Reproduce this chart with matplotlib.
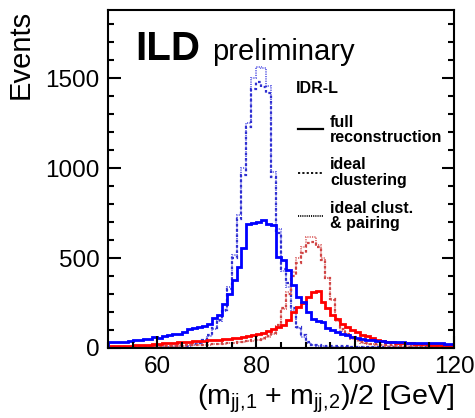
import numpy as np
import matplotlib
matplotlib.use("Agg")
import matplotlib.pyplot as plt
from matplotlib.ticker import MultipleLocator

plt.rcParams['font.family'] = ['Liberation Sans', 'DejaVu Sans']
plt.rcParams['mathtext.fontset'] = 'custom'
plt.rcParams['mathtext.rm'] = 'Liberation Sans'
plt.rcParams['mathtext.it'] = 'Liberation Sans'

# 1 GeV bins from 50 to 120
edges = np.arange(50, 121, 1)

# W pairs (blue)
w_full = [33, 33, 35, 35, 38, 43, 45, 48, 52, 61,
          58, 65, 70, 78, 80, 90, 108, 112, 117, 122,
          135, 165, 182, 247, 303, 377, 452, 554, 690, 695,
          700, 712, 690, 684, 508, 489, 433, 350, 284, 257,
          200, 164, 150, 145, 110, 98, 90, 80, 70, 61,
          58, 52, 43, 42, 40, 38, 35, 33, 33, 32,
          30, 30, 28, 28, 27, 26, 25, 25, 24, 23]
w_clust = [6, 6, 6, 6, 6, 6, 6, 6, 6, 6,
           6, 7, 8, 9, 10, 12, 15, 20, 30, 45,
           70, 110, 155, 210, 330, 500, 720, 960, 1230, 1440,
           1480, 1450, 1420, 950, 640, 440, 360, 225, 115, 70,
           33, 18, 14, 12, 11, 10, 10, 9, 9, 8,
           8, 8, 8, 7, 7, 7, 7, 7, 6, 6,
           6, 6, 6, 6, 5, 5, 5, 5, 5, 5]
w_pair = [4, 4, 4, 4, 4, 4, 4, 4, 4, 5,
          5, 5, 6, 7, 8, 10, 13, 18, 28, 42,
          68, 105, 150, 205, 340, 520, 740, 1000, 1250, 1500,
          1565, 1560, 1460, 980, 660, 430, 340, 210, 110, 60,
          28, 15, 11, 9, 8, 8, 7, 7, 7, 6,
          6, 6, 6, 6, 5, 5, 5, 5, 5, 5,
          5, 5, 5, 4, 4, 4, 4, 4, 4, 4]

# Z pairs (red)
z_full = [10, 11, 12, 12, 13, 14, 15, 17, 19, 21,
          24, 25, 27, 29, 31, 33, 35, 37, 39, 41,
          43, 45, 47, 49, 51, 54, 58, 62, 66, 72,
          80, 85, 92, 108, 115, 126, 154, 200, 230, 250,
          284, 312, 315, 257, 220, 182, 160, 135, 115, 100,
          89, 75, 65, 55, 45, 40, 35, 33, 30, 28,
          26, 25, 24, 22, 20, 18, 16, 15, 14, 13]
z_clust = [6, 6, 7, 7, 8, 8, 9, 9, 10, 10,
           11, 12, 12, 13, 14, 15, 16, 17, 18, 19,
           20, 22, 24, 26, 28, 30, 33, 36, 40, 42,
           45, 55, 65, 85, 130, 220, 300, 400, 470, 530,
           585, 590, 560, 490, 390, 270, 160, 105, 78, 60,
           45, 35, 28, 24, 20, 18, 16, 14, 13, 12,
           11, 10, 10, 9, 9, 8, 8, 7, 7, 7]
z_pair = [5, 5, 6, 6, 7, 7, 8, 8, 9, 9,
          10, 10, 11, 12, 12, 13, 14, 15, 16, 17,
          18, 20, 22, 24, 26, 28, 31, 34, 38, 40,
          43, 52, 62, 80, 125, 215, 310, 420, 500, 560,
          615, 620, 575, 500, 390, 265, 150, 95, 70, 52,
          40, 30, 24, 20, 17, 15, 13, 12, 11, 10,
          9, 9, 8, 8, 7, 7, 7, 6, 6, 6]

fig = plt.figure(figsize=(4.75, 4.18), dpi=100)
ax = fig.add_axes([0.2274, 0.1675, 0.7284, 0.8085])

dash = (0, (1.2, 1.2))
dot = (0, (0.6, 0.6))

ax.stairs(w_pair, edges, color='#7070e8', lw=1.4, ls=dot)
ax.stairs(w_clust, edges, color='#3030d0', lw=1.6, ls=dash)
ax.stairs(z_pair, edges, color='#e07878', lw=1.4, ls=dot)
ax.stairs(z_clust, edges, color='#d04545', lw=1.6, ls=dash)
ax.stairs(z_full, edges, color='#ff0000', lw=2.0)
ax.stairs(w_full, edges, color='#0000ff', lw=2.0)

ax.set_xlim(50, 120)
ax.set_ylim(0, 1880)
ax.xaxis.set_major_locator(MultipleLocator(20))
ax.xaxis.set_minor_locator(MultipleLocator(5))
ax.yaxis.set_major_locator(MultipleLocator(500))
ax.yaxis.set_minor_locator(MultipleLocator(100))
ax.tick_params(which='both', direction='in', right=True, top=False, width=1.5, labelsize=17.5)
ax.tick_params(which='major', length=9, pad=6)
ax.tick_params(which='minor', length=4.5)
for s in ax.spines.values():
    s.set_linewidth(1.5)

ax.set_ylabel('Events', fontsize=21, loc='top', labelpad=8)
ax.set_xlabel(r'$(m_{jj,\!1}$ + $m_{jj,\!2})/2$ [GeV]', fontsize=20.5, loc='right', labelpad=3)

ax.text(0.078, 0.852, 'ILD', transform=ax.transAxes, fontsize=29, fontweight='bold')
ax.text(0.30, 0.852, 'preliminary', transform=ax.transAxes, fontsize=21)
ax.text(0.543, 0.769, 'IDR-L', transform=ax.transAxes, fontsize=11.5,
        fontweight='bold', va='center')

legend_items = [('full\nreconstruction', '-', 0.645, 0.648),
                ('ideal\nclustering', dash, 0.52, 0.518),
                ('ideal clust.\n& pairing', dot, 0.39, 0.391)]
for label, style, ty, ly in legend_items:
    ax.plot([0.549, 0.621], [ly, ly], transform=ax.transAxes, color='black',
            lw=1.6 if style == '-' else 1.3, ls=style)
    ax.text(0.642, ty, label, transform=ax.transAxes, fontsize=11.5,
            fontweight='bold', va='center', linespacing=1.05)

fig.savefig('out.png', dpi=100)
